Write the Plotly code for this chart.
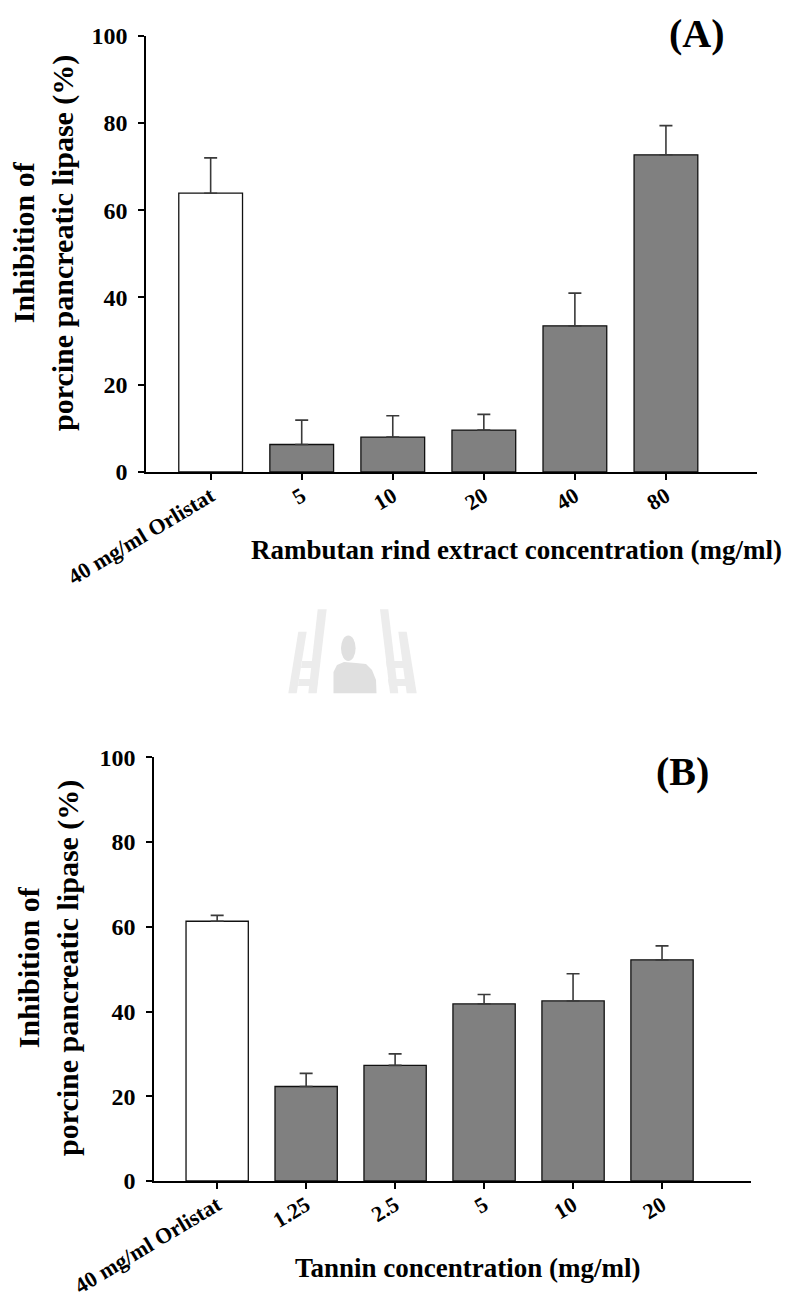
import plotly.graph_objects as go

W, H = 788, 1302

# Panel A: rambutan rind extract
rind_labels = ["40 mg/ml Orlistat", "5", "10", "20", "40", "80"]
rind_inhibition = [63.9, 6.3, 8.0, 9.6, 33.5, 72.7]
rind_sd = [8.1, 5.6, 4.9, 3.6, 7.5, 6.7]

# Panel B: tannin
tannin_labels = ["40 mg/ml Orlistat", "1.25", "2.5", "5", "10", "20"]
tannin_inhibition = [61.3, 22.3, 27.3, 41.8, 42.5, 52.2]
tannin_sd = [1.4, 3.1, 2.7, 2.2, 6.4, 3.3]

y_ticks = [0, 20, 40, 60, 80, 100]

FONT = "Liberation Serif"
CONTROL_FILL = "#ffffff"
SAMPLE_FILL = "#808080"


def px(x, y):
    """Pixel position -> paper coordinates."""
    return x / W, 1 - y / H


def bar_trace(labels, values, sd, xaxis, yaxis):
    fills = [CONTROL_FILL] + [SAMPLE_FILL] * (len(labels) - 1)
    return go.Bar(
        x=labels, y=values,
        xaxis=xaxis, yaxis=yaxis,
        width=0.70,
        marker=dict(color=fills, line=dict(color="#111111", width=1.3)),
        error_y=dict(type="data", array=sd, arrayminus=[0] * len(sd),
                     symmetric=False, color="#3a3a3a", thickness=1.6, width=6.5),
        showlegend=False,
    )


fig = go.Figure()
fig.add_trace(bar_trace(rind_labels, rind_inhibition, rind_sd, "x", "y"))
fig.add_trace(bar_trace(tannin_labels, tannin_inhibition, tannin_sd, "x2", "y2"))

y_tick_font = dict(family=FONT, size=24, color="black", weight="bold")
x_tick_font = dict(family=FONT, size=22, color="black", weight="bold")

common_x = dict(
    type="category", showline=True, linecolor="black", linewidth=1.5,
    ticks="outside", ticklen=6, tickwidth=1.5, tickcolor="black",
    showgrid=False, zeroline=False, tickangle=-31, tickfont=x_tick_font,
    ticklabelstandoff=-5,
    range=[-0.71, 6.0], fixedrange=True, automargin=False,
)
common_y = dict(
    range=[0, 100], tickvals=y_ticks, showline=True, linecolor="black",
    linewidth=1.5, ticks="outside", ticklen=6, tickwidth=1.5,
    tickcolor="black", showgrid=False, zeroline=False, tickfont=y_tick_font,
    ticklabelstandoff=6, fixedrange=True, automargin=False,
)

# Plot areas (pixel frame of each panel)
a_left, a_right, a_top, a_bottom = 146, 757, 35.7, 472
b_left, b_right, b_top, b_bottom = 154, 751, 757.3, 1181

fig.update_layout(
    width=W, height=H, autosize=False,
    margin=dict(l=0, r=0, t=0, b=0, autoexpand=False),
    paper_bgcolor="white", plot_bgcolor="white",
    bargap=0.3,
    xaxis=dict(common_x, domain=[a_left / W, a_right / W], anchor="y"),
    yaxis=dict(common_y, domain=[1 - a_bottom / H, 1 - a_top / H], anchor="x"),
    xaxis2=dict(common_x, domain=[b_left / W, b_right / W], anchor="y2"),
    yaxis2=dict(common_y, domain=[1 - b_bottom / H, 1 - b_top / H], anchor="x2"),
)

ytitle = "Inhibition of<br>porcine pancreatic lipase (%)"
title_font = dict(family=FONT, color="black", weight="bold")

annotations = [
    (ytitle, 43, 243, 30, -90),
    (ytitle, 48, 968, 30, -90),
    ("Rambutan rind extract concentration (mg/ml)", 516, 550, 27, 0),
    ("Tannin concentration (mg/ml)", 468, 1268, 27, 0),
    ("(A)", 697, 34, 40, 0),
    ("(B)", 682, 772, 40, 0),
]
for text, x, y, size, angle in annotations:
    ax, ay = px(x, y)
    fig.add_annotation(text=text, x=ax, y=ay, xref="paper", yref="paper",
                       xanchor="center", yanchor="middle", showarrow=False,
                       textangle=angle, font=dict(title_font, size=size))

# Faint institutional emblem between the panels
EMBLEM = "#ececec"


def poly(points, color):
    pts = [px(x, y) for x, y in points]
    path = "M " + " L ".join(f"{x:.5f},{y:.5f}" for x, y in pts) + " Z"
    fig.add_shape(type="path", path=path, xref="paper", yref="paper",
                  fillcolor=color, line=dict(width=0), layer="below")


# left ladder
poly([(298.3, 631.7), (306.7, 631.7), (296.7, 693.3), (288.3, 693.3)], EMBLEM)
poly([(317.7, 609.3), (326.7, 609.3), (316.7, 693.3), (308.3, 693.3)], EMBLEM)
poly([(302, 661), (320, 661), (319, 668), (301, 668)], EMBLEM)
poly([(299, 679), (318, 679), (317, 686), (298, 686)], EMBLEM)
# right ladder
poly([(380.0, 609.3), (388.3, 609.3), (398.3, 693.3), (390.0, 693.3)], EMBLEM)
poly([(398.3, 631.7), (406.7, 631.7), (416.7, 693.3), (406.7, 693.3)], EMBLEM)
poly([(386, 661), (404, 661), (405, 668), (387, 668)], EMBLEM)
poly([(388, 679), (407, 679), (408, 686), (389, 686)], EMBLEM)
# figure
hx, hy = px(348.3, 648.3)
rx, ry = 7.3 / W, 12.7 / H
fig.add_shape(type="circle", xref="paper", yref="paper",
              x0=hx - rx, x1=hx + rx, y0=hy - ry, y1=hy + ry,
              fillcolor="#e0e0e0", line=dict(width=0), layer="below")
poly([(333.5, 693.3), (333.5, 672), (337, 665), (344, 662), (356, 663),
      (366, 664), (372, 670), (376, 680), (376.5, 693.3)], "#e0e0e0")

fig.write_html("out.html")
